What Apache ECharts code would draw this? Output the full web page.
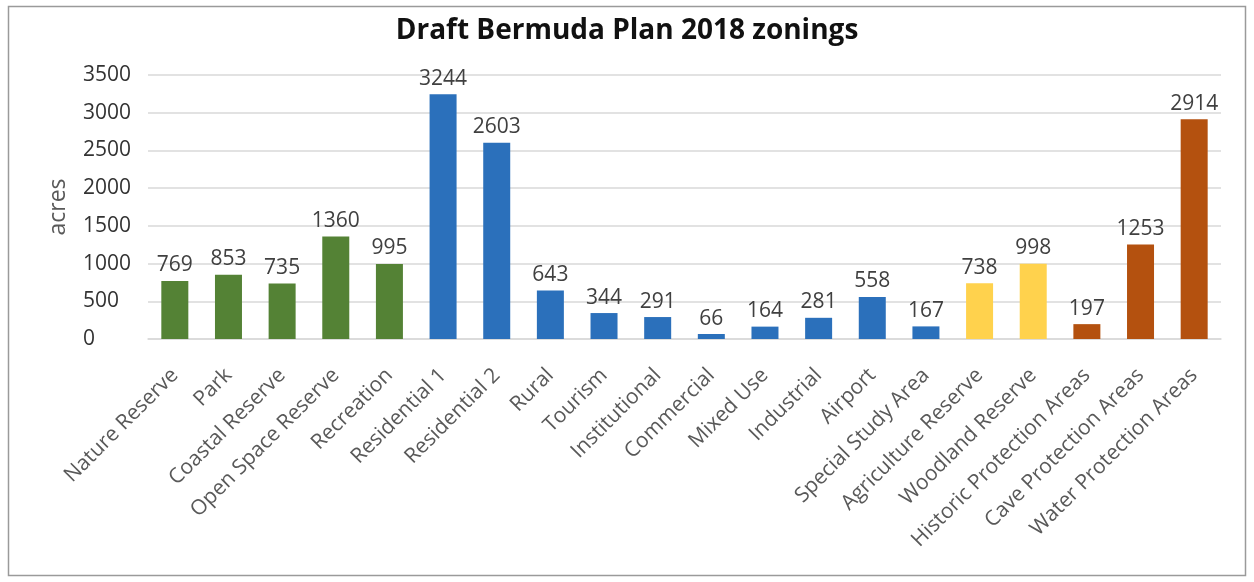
<!DOCTYPE html>
<html>
<head>
<meta charset="utf-8">
<script src="https://cdn.jsdelivr.net/npm/echarts@6/dist/echarts.min.js"></script>
<style>
  html, body { margin: 0; padding: 0; background: #ffffff; }
  #chart { width: 1254px; height: 582px; }
</style>
</head>
<body>
<div id="chart"></div>
<script>
// Zoning areas (acres) for the Draft Bermuda Plan 2018
const categories = [
  'Nature Reserve', 'Park', 'Coastal Reserve', 'Open Space Reserve', 'Recreation',
  'Residential 1', 'Residential 2', 'Rural', 'Tourism', 'Institutional',
  'Commercial', 'Mixed Use', 'Industrial', 'Airport', 'Special Study Area',
  'Agriculture Reserve', 'Woodland Reserve', 'Historic Protection Areas',
  'Cave Protection Areas', 'Water Protection Areas'
];
const acres = [769, 853, 735, 1360, 995, 3244, 2603, 643, 344, 291, 66, 164, 281, 558, 167, 738, 998, 197, 1253, 2914];
// zoning group of each category: 0 = open space, 1 = development, 2 = agriculture/woodland, 3 = protection areas
const groups = [0, 0, 0, 0, 0, 1, 1, 1, 1, 1, 1, 1, 1, 1, 1, 2, 2, 3, 3, 3];
const groupColors = ['#548235', '#2b70bb', '#ffd24d', '#b4510f'];
const yTicks = [0, 500, 1000, 1500, 2000, 2500, 3000, 3500];

const chart = echarts.init(document.getElementById('chart'));
const font = '"Open Sans", "Noto Sans", sans-serif';

chart.setOption({
  backgroundColor: '#ffffff',
  animation: false,
  title: {
    text: 'Draft Bermuda Plan 2018 zonings',
    left: 'center',
    top: 12,
    textStyle: { fontFamily: font, fontSize: 28, fontWeight: 'bold', color: '#111111' }
  },
  graphic: [{
    type: 'rect',
    shape: { x: 8.5, y: 6.5, width: 1237, height: 569 },
    style: { fill: 'none', stroke: '#9a9a9a', lineWidth: 1.5 },
    silent: true
  }],
  grid: { left: 148, right: 33, top: 75, bottom: 582 - 339 },
  xAxis: {
    type: 'category',
    data: categories,
    axisTick: { show: false },
    axisLine: { lineStyle: { color: '#d9d9d9', width: 1.5 } },
    axisLabel: {
      interval: 0,
      rotate: 45,
      margin: 33,
      fontFamily: font,
      fontSize: 21,
      color: '#595959'
    }
  },
  yAxis: {
    type: 'value',
    min: yTicks[0],
    max: yTicks[yTicks.length - 1],
    interval: 500,
    name: 'acres',
    nameLocation: 'middle',
    nameGap: 78,
    nameTextStyle: { fontFamily: font, fontSize: 23, color: '#595959' },
    axisLine: { show: false },
    axisTick: { show: false },
    axisLabel: {
      fontFamily: font,
      fontSize: 21,
      color: '#333333',
      align: 'left',
      margin: 65,
      formatter: v => String(v)
    },
    splitLine: { lineStyle: { color: '#d9d9d9', width: 1.5 } }
  },
  series: [{
    type: 'bar',
    barWidth: 27,
    data: acres.map((v, i) => ({ value: v, itemStyle: { color: groupColors[groups[i]] } })),
    label: {
      show: true,
      position: 'top',
      distance: 5,
      fontFamily: font,
      fontSize: 21,
      color: '#404040'
    }
  }]
});
</script>
</body>
</html>
